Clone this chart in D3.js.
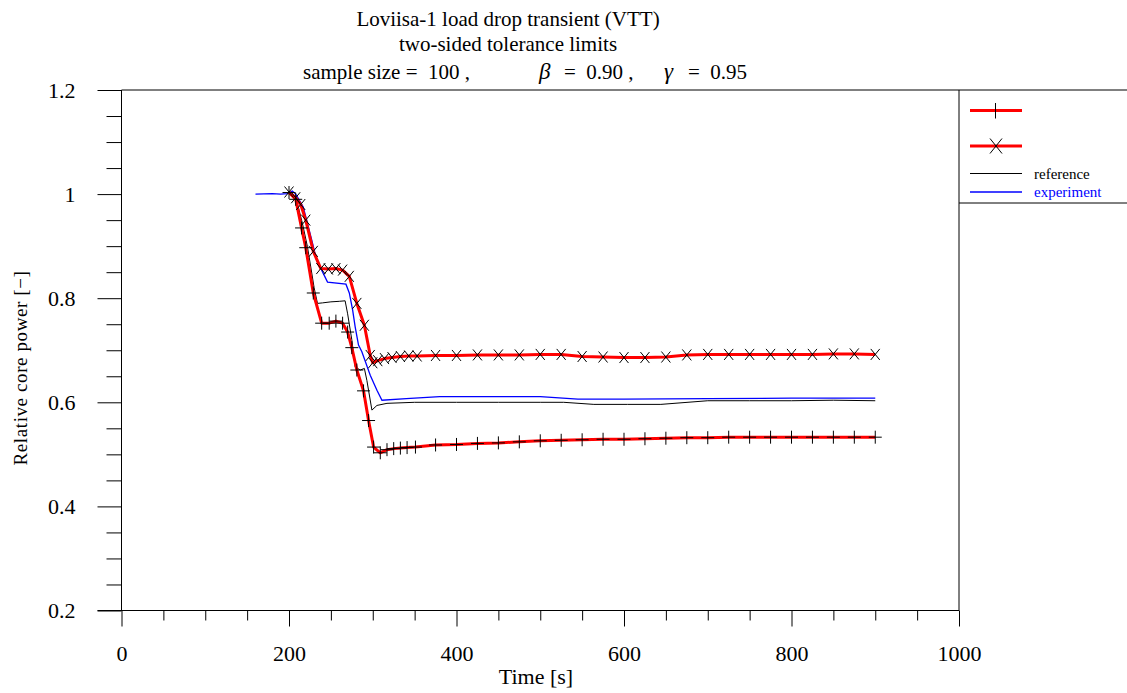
<!DOCTYPE html>
<html><head><meta charset="utf-8">
<script src="https://cdn.jsdelivr.net/npm/d3@7/dist/d3.min.js"></script>
<style>
body{margin:0;background:#fff}
svg{display:block}
text{font-family:"Liberation Serif","Times New Roman",serif;fill:#000;white-space:pre}
</style>
</head><body>
<svg id="chart" width="1127" height="693"></svg>
<script>
// ---- data ----
const titleLine1 = "Loviisa-1 load drop transient (VTT)";
const titleLine2 = "two-sided tolerance limits";
const titleParts = ["sample size =  100 ,", "\u03B2", "=  0.90 ,", "\u03B3", "=  0.95"];
const xLabel = "Time [s]";
const yLabel = "Relative core power [\u2212]";
const legendLabels = ["", "", "reference", "experiment"];

const xMajorTicks = [0, 200, 400, 600, 800, 1000];
const xMinorTicks = [50,100,150,250,300,350,450,500,550,650,700,750,850,900,950];
const yMajorTicks = [0.2, 0.4, 0.6, 0.8, 1.0, 1.2];
const yMinorTicks = [0.25,0.3,0.35,0.45,0.5,0.55,0.65,0.7,0.75,0.85,0.9,0.95,1.05,1.1,1.15];

// upper tolerance limit (x markers)
const upperTime  = [200,208,214,220,229,238,247,256,264,272,281,290,297,300,306,314,323,333,343,353,375,400,425,450,475,500,525,550,575,600,625,650,675,700,725,750,775,800,825,850,875,900];
const upperValue = [1.004,0.993,0.980,0.950,0.890,0.857,0.856,0.857,0.854,0.842,0.790,0.748,0.690,0.676,0.680,0.684,0.686,0.688,0.689,0.689,0.690,0.690,0.691,0.691,0.691,0.692,0.692,0.688,0.687,0.686,0.686,0.687,0.691,0.692,0.692,0.692,0.692,0.692,0.692,0.693,0.693,0.692];
// lower tolerance limit (+ markers)
const lowerTime  = [200,208,215,220,229,239,248,256,264,270,275,281,289,295,301,309,317,325,333,341,351,375,400,425,450,475,500,525,550,575,600,625,650,675,700,725,750,775,800,825,850,875,900];
const lowerValue = [1.003,0.990,0.935,0.897,0.810,0.752,0.752,0.756,0.752,0.735,0.705,0.662,0.622,0.565,0.514,0.503,0.509,0.511,0.512,0.513,0.514,0.518,0.519,0.521,0.522,0.524,0.526,0.527,0.528,0.529,0.529,0.530,0.531,0.532,0.532,0.533,0.533,0.533,0.533,0.533,0.533,0.533,0.533];
// reference calculation
const refTime  = [200,205,210,216,222,226,230,234,240,250,260,267,270,275,279,285,290,293,299,305,317,350,400,450,500,528,564,604,644,700,750,800,850,900];
const refValue = [1.000,0.995,0.982,0.944,0.899,0.860,0.820,0.790,0.791,0.793,0.794,0.795,0.770,0.720,0.668,0.662,0.665,0.642,0.585,0.594,0.598,0.600,0.600,0.600,0.600,0.600,0.596,0.596,0.596,0.603,0.603,0.603,0.604,0.603];
// experiment
const expTime  = [160,180,190,198,204,208,211,217,222,228,233,239,246,268,272,276,279,283,287,297,305,311,340,380,500,545,600,700,800,900];
const expValue = [1.000,1.001,1.000,1.001,1.006,1.000,0.992,0.975,0.944,0.906,0.873,0.854,0.831,0.827,0.810,0.777,0.745,0.710,0.697,0.652,0.623,0.604,0.607,0.611,0.611,0.606,0.606,0.607,0.608,0.608];

// ---- drawing ----
const svg = d3.select("#chart");
const x = d3.scaleLinear().domain([0, 1000]).range([121.5, 959]);
const y = d3.scaleLinear().domain([0.2, 1.2]).range([610.5, 90]);

const plusPath = "M-6.5,0H6.5M0,-6.5V6.5";
const crossPath = "M-4.5,-5.5L4.5,5.5M-4.5,5.5L4.5,-5.5";

// title
svg.append("text").attr("x", 508).attr("y", 26).attr("text-anchor", "middle").style("font-size", "21px").text(titleLine1);
svg.append("text").attr("x", 508).attr("y", 51).attr("text-anchor", "middle").style("font-size", "21px").text(titleLine2);
const t3 = [[303, titleParts[0], "21px", "normal"], [539, titleParts[1], "23px", "italic"],
            [564, titleParts[2], "21px", "normal"], [664, titleParts[3], "23px", "italic"],
            [688, titleParts[4], "21px", "normal"]];
t3.forEach(d => {
  svg.append("text").attr("x", d[0]).attr("y", 79).style("font-size", d[2]).style("font-style", d[3]).text(d[1]);
});

// axes
const gx = svg.append("g").attr("transform", "translate(0,610.5)")
  .call(d3.axisBottom(x).tickValues(xMajorTicks).tickSize(16).tickPadding(19).tickFormat(d3.format("d")));
const gxm = svg.append("g").attr("transform", "translate(0,610.5)")
  .call(d3.axisBottom(x).tickValues(xMinorTicks).tickSize(10).tickFormat(""));
const gy = svg.append("g").attr("transform", "translate(121.5,0)")
  .call(d3.axisLeft(y).tickValues(yMajorTicks).tickSize(24).tickPadding(22).tickFormat(d => d === 1 ? "1" : d3.format(".1f")(d)));
const gym = svg.append("g").attr("transform", "translate(121.5,0)")
  .call(d3.axisLeft(y).tickValues(yMinorTicks).tickSize(15).tickFormat(""));
[gx, gxm, gy, gym].forEach(g => {
  g.select(".domain").remove();
  g.selectAll("line").attr("stroke", "#000").attr("stroke-width", 1);
  g.selectAll("text").style("font-family", '"Liberation Serif",serif').style("font-size", "22px").attr("fill", "#000");
});

// frame
const frame = svg.append("g").attr("stroke", "#000").attr("stroke-width", 1).attr("fill", "none");
frame.append("line").attr("x1", x(0)).attr("x2", x(0)).attr("y1", y(1.2)).attr("y2", y(0.2));
frame.append("line").attr("x1", x(0) - 24).attr("x2", x(1000)).attr("y1", y(0.2)).attr("y2", y(0.2));
frame.append("line").attr("x1", x(0)).attr("x2", 1127).attr("y1", y(1.2)).attr("y2", y(1.2));
frame.append("line").attr("x1", x(1000)).attr("x2", x(1000)).attr("y1", y(1.2)).attr("y2", y(0.2));
// legend box bottom
frame.append("line").attr("x1", x(1000)).attr("x2", 1127).attr("y1", 203).attr("y2", 203);

// axis titles
svg.append("text").attr("x", 536).attr("y", 684).attr("text-anchor", "middle").style("font-size", "22px").text(xLabel);
svg.append("text").attr("transform", "translate(27,368) rotate(-90)").attr("text-anchor", "middle")
  .style("font-size", "19px").style("letter-spacing", "0.6px").text(yLabel);

// lines
const line = d3.line().x(d => x(d[0])).y(d => y(d[1]));
const zip = (a, b) => a.map((v, i) => [v, b[i]]);
const refData = zip(refTime, refValue), expData = zip(expTime, expValue);
const upData = zip(upperTime, upperValue), lowData = zip(lowerTime, lowerValue);

svg.append("path").datum(refData).attr("d", line).attr("fill", "none").attr("stroke", "#000").attr("stroke-width", 1);
svg.append("path").datum(expData).attr("d", line).attr("fill", "none").attr("stroke", "#0000ff").attr("stroke-width", 1.3);
svg.append("path").datum(lowData).attr("d", line).attr("fill", "none").attr("stroke", "#ff0000").attr("stroke-width", 3).attr("stroke-linejoin", "round");
svg.append("path").datum(upData).attr("d", line).attr("fill", "none").attr("stroke", "#ff0000").attr("stroke-width", 3).attr("stroke-linejoin", "round");

svg.append("g").selectAll("path").data(lowData).join("path")
  .attr("transform", d => `translate(${x(d[0])},${y(d[1])})`).attr("d", plusPath).attr("stroke", "#000").attr("stroke-width", 1).attr("fill", "none");
svg.append("g").selectAll("path").data(upData).join("path")
  .attr("transform", d => `translate(${x(d[0])},${y(d[1])})`).attr("d", crossPath).attr("stroke", "#000").attr("stroke-width", 1).attr("fill", "none");

// legend
const legend = svg.append("g");
const legY = [110.5, 146, 173.5, 192];
const legColors = ["#ff0000", "#ff0000", "#000", "#0000ff"];
const legWidths = [3, 3, 1, 1.3];
const legMarkers = ["M-0.5,-7.5V8", "M-6,-7.5L6,7.5M-6,7.5L6,-7.5", null, null];
legY.forEach((ly, i) => {
  legend.append("line").attr("x1", 970).attr("x2", 1022).attr("y1", ly).attr("y2", ly)
    .attr("stroke", legColors[i]).attr("stroke-width", legWidths[i]);
  if (legMarkers[i]) legend.append("path").attr("transform", `translate(996,${ly})`).attr("d", legMarkers[i]).attr("stroke", "#000").attr("fill", "none");
  if (legendLabels[i]) legend.append("text").attr("x", 1034).attr("y", ly + 5).style("font-size", "15px")
    .style("fill", i === 3 ? "#0000ff" : "#000").text(legendLabels[i]);
});
</script>
</body></html>
